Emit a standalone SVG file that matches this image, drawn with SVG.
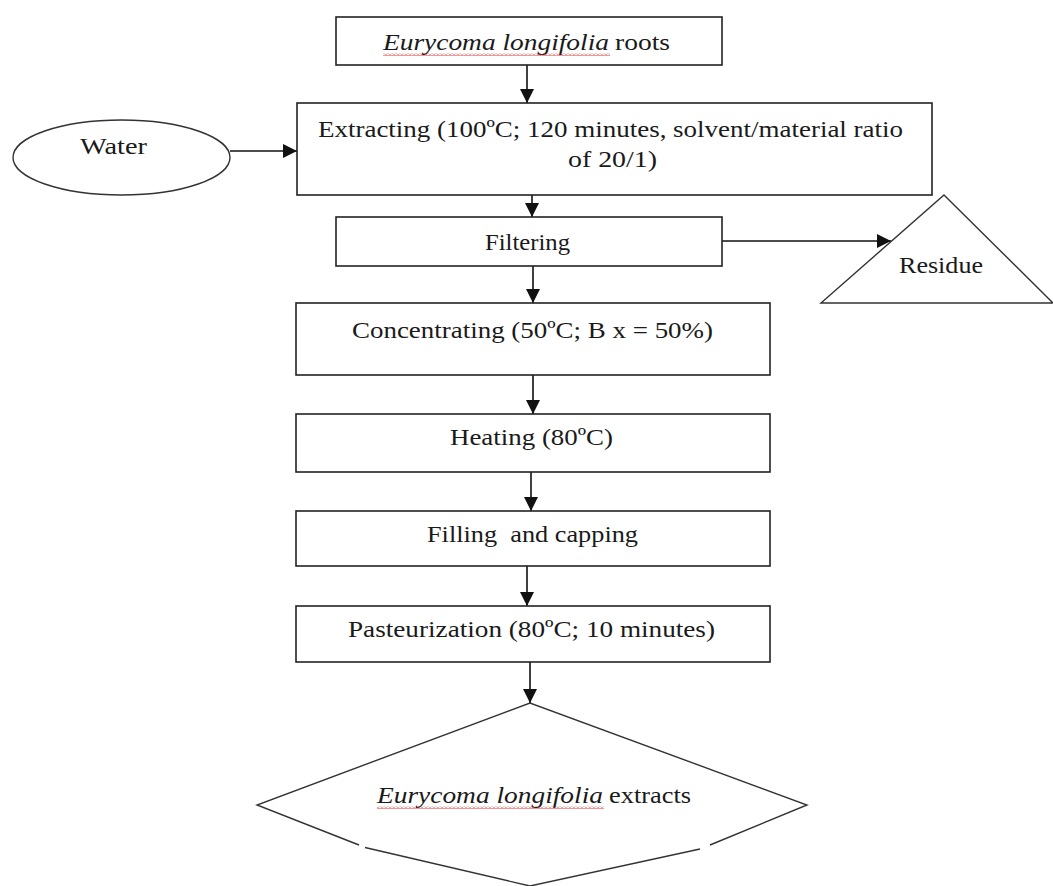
<svg xmlns="http://www.w3.org/2000/svg" width="1053" height="886" viewBox="0 0 1053 886">
<style>
.box{fill:#fff;stroke:#222;stroke-width:1.6}
.shape{fill:#fff;stroke:#333;stroke-width:1.4}
.t{font-family:"Liberation Serif","Times New Roman",serif;font-size:24px;fill:#1a1a1a;white-space:pre}
.it{font-style:italic}
.c{stroke:#111;stroke-width:1.6;fill:none}
.sq{stroke:#e03030;stroke-width:1;fill:none}
</style>
<defs>
<marker id="ah" markerWidth="14" markerHeight="14" refX="14" refY="7" orient="auto" markerUnits="userSpaceOnUse">
<path d="M0,0 L14,7 L0,14 Z" fill="#111"/>
</marker>
<pattern id="wavy" width="4" height="3" patternUnits="userSpaceOnUse">
<path d="M0,2.5 L2,0.5 L4,2.5" class="sq"/>
</pattern>
</defs>
<rect width="1053" height="886" fill="#fff"/>

<g id="connectors">
<line class="c" x1="527" y1="65" x2="527" y2="103" marker-end="url(#ah)"/>
<line class="c" x1="230" y1="151" x2="297" y2="151" marker-end="url(#ah)"/>
<line class="c" x1="532" y1="195" x2="532" y2="217" marker-end="url(#ah)"/>
<line class="c" x1="722" y1="241" x2="891" y2="241" marker-end="url(#ah)"/>
<line class="c" x1="533" y1="266" x2="533" y2="303" marker-end="url(#ah)"/>
<line class="c" x1="533" y1="375" x2="533" y2="414" marker-end="url(#ah)"/>
<line class="c" x1="531" y1="472" x2="531" y2="511" marker-end="url(#ah)"/>
<line class="c" x1="527" y1="566" x2="527" y2="606" marker-end="url(#ah)"/>
<line class="c" x1="530" y1="662" x2="530" y2="703" marker-end="url(#ah)"/>
</g>

<g id="roots">
<rect class="box" x="336" y="17" width="386" height="48"/>
<text class="t it" x="383" y="50" textLength="226" lengthAdjust="spacingAndGlyphs">Eurycoma longifolia</text>
<text class="t" x="615" y="50" textLength="55" lengthAdjust="spacingAndGlyphs">roots</text>
<rect x="383" y="53" width="227" height="3" fill="url(#wavy)"/>
</g>

<g id="water">
<ellipse class="shape" cx="121.5" cy="157.5" rx="108.5" ry="37.5"/>
<text class="t" x="80" y="154" textLength="67" lengthAdjust="spacingAndGlyphs">Water</text>
</g>

<g id="extracting">
<rect class="box" x="297" y="103" width="635" height="92"/>
<text class="t" x="318" y="137" textLength="585" lengthAdjust="spacingAndGlyphs">Extracting (100ºC; 120 minutes, solvent/material ratio</text>
<text class="t" x="568" y="167" textLength="89" lengthAdjust="spacingAndGlyphs">of 20/1)</text>
</g>

<g id="filtering">
<rect class="box" x="336" y="217" width="386" height="49"/>
<text class="t" x="485" y="250" textLength="85" lengthAdjust="spacingAndGlyphs">Filtering</text>
</g>

<g id="residue">
<polygon class="shape" points="944,195 1053,303 821,303"/>
<text class="t" x="899" y="273" textLength="84" lengthAdjust="spacingAndGlyphs">Residue</text>
</g>

<g id="concentrating">
<rect class="box" x="296" y="303" width="474" height="72"/>
<text class="t" x="352" y="338" textLength="361" lengthAdjust="spacingAndGlyphs">Concentrating (50ºC; B x = 50%)</text>
</g>

<g id="heating">
<rect class="box" x="296" y="414" width="474" height="58"/>
<text class="t" x="450" y="445" textLength="163" lengthAdjust="spacingAndGlyphs">Heating (80ºC)</text>
</g>

<g id="filling">
<rect class="box" x="296" y="511" width="474" height="55"/>
<text class="t" x="427" y="542" textLength="211" lengthAdjust="spacingAndGlyphs">Filling  and capping</text>
</g>

<g id="pasteurization">
<rect class="box" x="296" y="606" width="474" height="56"/>
<text class="t" x="348" y="637" textLength="367" lengthAdjust="spacingAndGlyphs">Pasteurization (80ºC; 10 minutes)</text>
</g>

<g id="extracts">
<polyline class="shape" points="359,845 257,805 530,703 807,805 710,845"/>
<line class="shape" x1="365" y1="847.5" x2="530" y2="886"/>
<line class="shape" x1="700" y1="849" x2="530" y2="886"/>
<text class="t it" x="377" y="803" textLength="226" lengthAdjust="spacingAndGlyphs">Eurycoma longifolia</text>
<text class="t" x="609" y="803" textLength="82" lengthAdjust="spacingAndGlyphs">extracts</text>
<rect x="377" y="806" width="227" height="3" fill="url(#wavy)"/>
</g>
</svg>
